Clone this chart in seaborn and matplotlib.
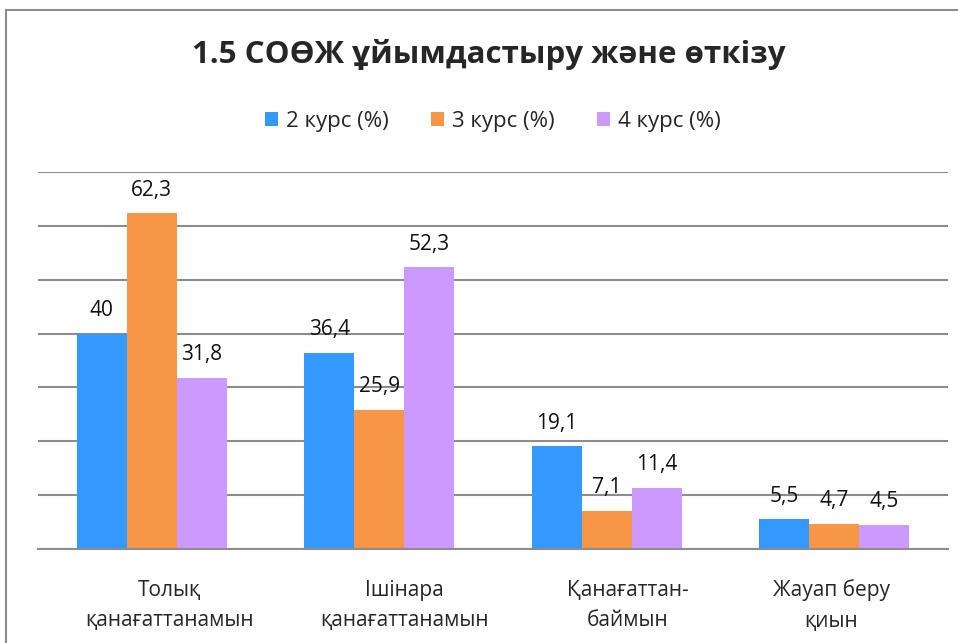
import matplotlib
matplotlib.use("Agg")
import matplotlib.pyplot as plt
import seaborn as sns
import pandas as pd
from matplotlib.patches import Rectangle
from matplotlib.transforms import ScaledTranslation

# chart data
categories = ["Толық\nқанағаттанамын", "Ішінара\nқанағаттанамын",
              "Қанағаттан-\nбаймын", "Жауап беру\nқиын"]
series = ["2 курс (%)", "3 курс (%)", "4 курс (%)"]
kurs2 = [40, 36.4, 19.1, 5.5]
kurs3 = [62.3, 25.9, 7.1, 4.7]
kurs4 = [31.8, 52.3, 11.4, 4.5]
colors = ["#3399FF", "#F79646", "#CC99FF"]

df = pd.DataFrame({
    "cat": categories * 3,
    "series": [s for s in series for _ in categories],
    "value": kurs2 + kurs3 + kurs4,
})

sns.set_style("white")
plt.rcParams["font.family"] = ["Open Sans", "DejaVu Sans"]

fig = plt.figure(figsize=(9.58, 6.43), dpi=100)
ax = fig.add_axes([38 / 958, 1 - 549 / 643, 910 / 958, 377 / 643])

sns.barplot(data=df, x="cat", y="value", hue="series", palette=colors,
            width=0.66, gap=0, saturation=1, ax=ax, legend=True,
            edgecolor="none", linewidth=0)

for cont in ax.containers:
    labels = [f"{v:g}".replace(".", ",") for v in cont.datavalues]
    ax.bar_label(cont, labels=labels, padding=9, fontsize=15, color="#111111")

ax.set_ylim(0, 70)
ax.set_xlim(-0.5, 3.5)
ax.set_yticks(range(0, 71, 10))
ax.set_yticklabels([])
ax.tick_params(axis="y", length=0)
ax.tick_params(axis="x", length=0, labelsize=15, pad=22)
ax.yaxis.grid(True, color="#8c8c8c", linewidth=1.5)
ax.set_axisbelow(True)
for s in ["top", "right", "left"]:
    ax.spines[s].set_visible(False)
ax.spines["bottom"].set_color("#8c8c8c")
ax.spines["bottom"].set_linewidth(1.5)
ax.set_xlabel("")
ax.set_ylabel("")

# category labels sit a little off-centre in the original (text-box wrapping)
shifts = [0.18, 0.25, 0.21, -0.03]
for lab, dx in zip(ax.get_xticklabels(), shifts):
    lab.set_linespacing(1.6)
    lab.set_transform(lab.get_transform() + ScaledTranslation(dx, 0, fig.dpi_scale_trans))

# legend above the plot
leg = ax.legend(loc="center", bbox_to_anchor=(0.5, (549 - 121) / 377),
                ncol=3, frameon=False, fontsize=16, handlelength=0.6,
                handleheight=0.6, handletextpad=0.35, columnspacing=1.9)

fig.text(0.5 * (38 + 948) / 958 - 0.004, 1 - 55 / 643, "1.5 СОӨЖ ұйымдастыру және өткізу",
         ha="center", va="center", fontsize=22.5, fontweight="bold")

# outer chart frame (cropped on right/bottom)
fig.patches.append(Rectangle((5.5 / 958, -0.1), 1.2, 1.1 - 10 / 643,
                             transform=fig.transFigure, fill=False,
                             edgecolor="#8c8c8c", linewidth=1.5))

fig.savefig("out.png", dpi=100)
